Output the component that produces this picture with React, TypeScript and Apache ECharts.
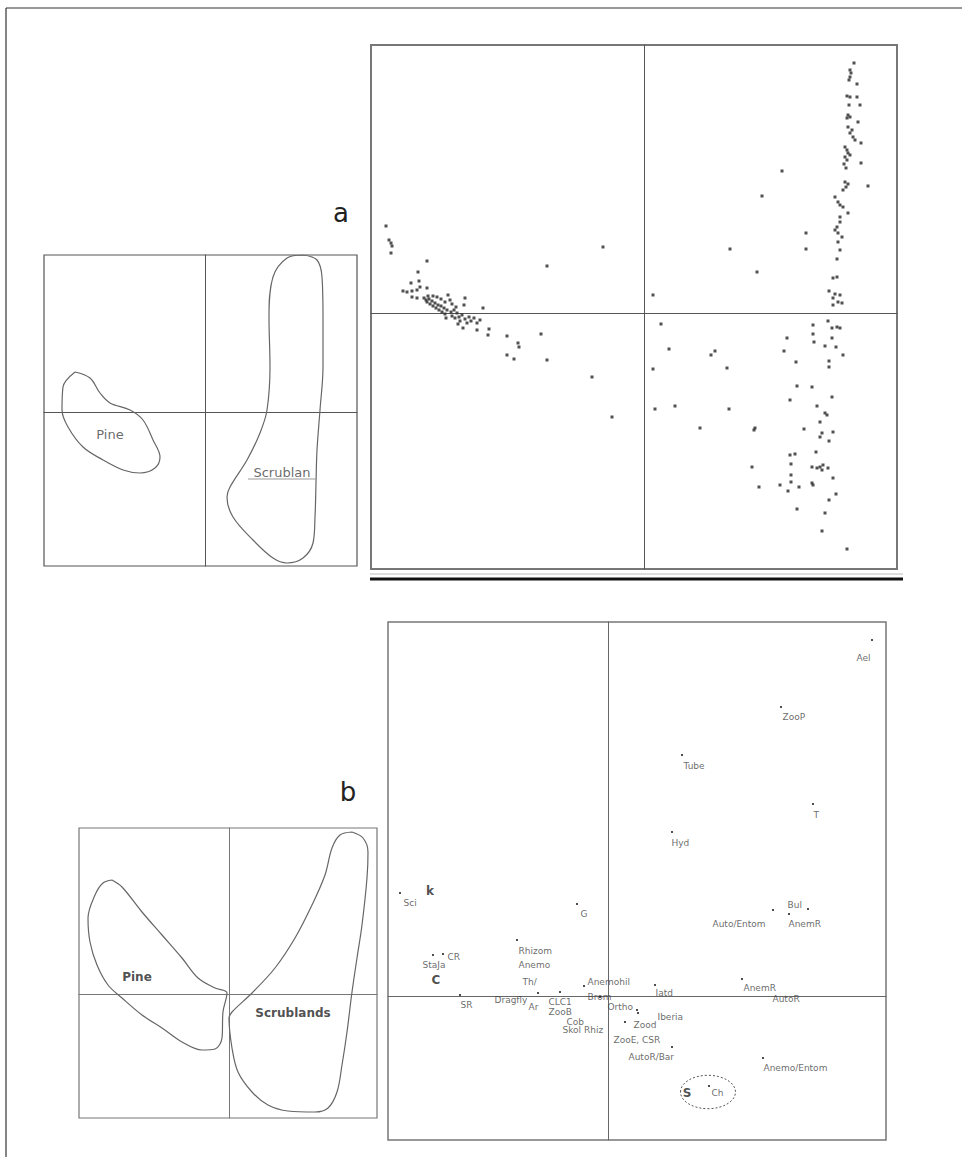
import React, { useEffect, useRef } from "react";
import * as echarts from "echarts";

// ---------- Panel a: outlines (left small plot) ----------
const pineOutlineA: number[][] = [
  [-1.30, 0.40], [-1.15, 0.34], [-1.05, 0.19], [-0.95, 0.09], [-0.75, 0.02], [-0.62, -0.08],
  [-0.52, -0.28], [-0.45, -0.45], [-0.50, -0.56], [-0.65, -0.61], [-0.82, -0.58], [-1.02, -0.48],
  [-1.22, -0.35], [-1.37, -0.15], [-1.43, 0.02], [-1.42, 0.25],
];
const scrubOutlineA: number[][] = [
  [0.98, 1.57], [1.12, 1.52], [1.17, 1.35], [1.18, 0.95], [1.18, 0.45], [1.15, 0.02],
  [1.12, -0.38], [1.11, -0.71], [1.10, -1.05], [1.08, -1.31], [0.98, -1.46], [0.82, -1.51],
  [0.68, -1.46], [0.48, -1.28], [0.28, -1.05], [0.22, -0.85], [0.25, -0.75], [0.42, -0.48],
  [0.55, -0.21], [0.62, 0.02], [0.65, 0.45], [0.64, 0.95], [0.68, 1.35], [0.82, 1.54],
];
const groupLabelsA: [string, number, number][] = [
  ["Pine", -0.95, -0.22],
  ["Scrublan", 0.77, -0.60],
];
const underlineA: number[][] = [[0.43, -0.67], [1.12, -0.67]];

// ---------- Panel a: site scores (right big plot) ----------
const pineSitesA: number[][] = [
  [-2.58, 0.87], [-2.55, 0.73], [-2.53, 0.70], [-2.52, 0.67], [-2.53, 0.60], [-2.17, 0.52],
  [-2.26, 0.41], [-2.25, 0.32], [-2.33, 0.30], [-2.24, 0.26], [-2.17, 0.25], [-2.41, 0.22],
  [-2.37, 0.21], [-2.32, 0.22], [-2.27, 0.23], [-2.32, 0.16], [-2.27, 0.15],
  [-2.20, 0.15], [-2.18, 0.13], [-2.17, 0.11], [-2.15, 0.14], [-2.14, 0.09], [-2.12, 0.12],
  [-2.11, 0.07], [-2.09, 0.10], [-2.08, 0.05], [-2.06, 0.08], [-2.05, 0.03], [-2.03, 0.07],
  [-2.02, 0.01], [-2.00, 0.05], [-1.99, -0.01], [-1.97, 0.03], [-1.96, 0.18], [-1.94, 0.13],
  [-1.93, 0.01], [-1.92, -0.03], [-1.90, 0.03], [-1.89, -0.05], [-1.87, 0.00], [-1.85, -0.04],
  [-1.84, -0.08], [-1.82, -0.02], [-1.80, 0.08], [-1.79, 0.15], [-1.79, -0.06], [-1.77, -0.10],
  [-1.81, -0.15], [-1.75, -0.04], [-1.73, -0.08], [-1.70, -0.05], [-1.67, -0.10], [-1.64, -0.07],
  [-2.07, 0.16], [-2.03, 0.14], [-1.99, 0.11], [-1.92, 0.09], [-1.88, 0.06], [-2.16, 0.17],
  [-2.11, 0.17], [-1.98, -0.05], [-1.86, -0.11],
  [-1.61, 0.05], [-0.97, 0.47], [-0.41, 0.66], [-1.67, -0.17], [-1.55, -0.16], [-1.56, -0.22],
  [-1.37, -0.23], [-1.26, -0.30], [-1.25, -0.34], [-1.03, -0.21], [-1.37, -0.42], [-1.30, -0.46],
  [-0.97, -0.47], [-0.52, -0.64], [-0.32, -1.04],
];
const scrubSitesA: number[][] = [
  [2.10, 2.50], [2.06, 2.43], [2.07, 2.40], [2.06, 2.36], [2.05, 2.33], [2.13, 2.29],
  [2.03, 2.17], [2.06, 2.16], [2.13, 2.16], [2.05, 2.08], [2.16, 2.08], [2.04, 1.98],
  [2.03, 1.95], [2.06, 1.96], [2.14, 1.91], [2.04, 1.86], [2.08, 1.83], [2.06, 1.80],
  [2.09, 1.76], [2.11, 1.73], [2.17, 1.70], [2.01, 1.66], [2.03, 1.63], [2.04, 1.60],
  [2.06, 1.58], [2.01, 1.56], [2.03, 1.53], [2.17, 1.50], [2.00, 1.49], [2.02, 1.45],
  [1.38, 1.42], [2.24, 1.27], [2.01, 1.31], [2.04, 1.29], [2.02, 1.26], [1.99, 1.23],
  [1.18, 1.17], [1.91, 1.16], [1.94, 1.11], [1.96, 1.08], [1.99, 1.06], [2.04, 1.00],
  [1.96, 0.96], [1.96, 0.91], [1.93, 0.86], [1.91, 0.83], [1.94, 0.80], [1.98, 0.76],
  [1.62, 0.80], [0.86, 0.64], [1.62, 0.64], [1.94, 0.71], [1.96, 0.63], [1.93, 0.54],
  [1.13, 0.41], [1.89, 0.35], [1.93, 0.36], [0.09, 0.18], [1.85, 0.22], [1.91, 0.19],
  [1.96, 0.18], [1.89, 0.15], [1.94, 0.11], [1.98, 0.10], [1.89, 0.08],
  [1.84, -0.08], [1.88, -0.15], [1.93, -0.14], [1.96, -0.15], [0.17, -0.11], [1.69, -0.12],
  [1.69, -0.21], [1.70, -0.29], [1.43, -0.25], [1.88, -0.25], [1.81, -0.33], [1.92, -0.34],
  [0.25, -0.36], [0.71, -0.38], [0.67, -0.42], [1.40, -0.38], [1.99, -0.42], [1.52, -0.49],
  [1.85, -0.48], [1.85, -0.54], [0.09, -0.56], [0.83, -0.55], [1.53, -0.73], [1.68, -0.74],
  [1.88, -0.84], [1.46, -0.87], [0.11, -0.96], [0.31, -0.93], [0.85, -0.96], [1.73, -0.93],
  [1.81, -1.00], [1.83, -1.02], [1.76, -1.09], [0.56, -1.15], [1.11, -1.15], [1.10, -1.17],
  [1.60, -1.16], [1.78, -1.20], [1.76, -1.24], [1.89, -1.19], [1.85, -1.28], [1.72, -1.39],
  [1.46, -1.42], [1.51, -1.41], [1.47, -1.51], [1.08, -1.54], [1.68, -1.54], [1.73, -1.55],
  [1.76, -1.54], [1.78, -1.57], [1.79, -1.52], [1.84, -1.55], [1.89, -1.65], [1.47, -1.62],
  [1.47, -1.69], [1.15, -1.74], [1.36, -1.72], [1.44, -1.78], [1.55, -1.74], [1.68, -1.70],
  [1.69, -1.72], [1.92, -1.81], [1.85, -1.87], [1.53, -1.96], [1.81, -2.00], [1.78, -2.18],
  [2.03, -2.36],
];

// ---------- Panel b: outlines (left small plot) ----------
const pineOutlineB: number[][] = [
  [-1.17, 1.14], [-1.07, 1.07], [-0.87, 0.82], [-0.67, 0.59], [-0.47, 0.36], [-0.31, 0.16],
  [-0.14, 0.06], [-0.02, 0.01], [-0.06, -0.18], [-0.07, -0.44], [-0.14, -0.55], [-0.27, -0.56],
  [-0.47, -0.48], [-0.67, -0.34], [-0.87, -0.21], [-1.07, -0.04], [-1.21, 0.09], [-1.32, 0.29],
  [-1.39, 0.52], [-1.41, 0.76], [-1.34, 0.99], [-1.26, 1.11],
];
const scrubOutlineB: number[][] = [
  [1.23, 1.62], [1.34, 1.56], [1.39, 1.42], [1.38, 1.16], [1.33, 0.69], [1.28, 0.36],
  [1.23, 0.02], [1.18, -0.38], [1.13, -0.71], [1.08, -0.98], [0.99, -1.14], [0.86, -1.18],
  [0.59, -1.17], [0.39, -1.11], [0.23, -0.98], [0.09, -0.78], [0.03, -0.54], [0.00, -0.24],
  [0.03, -0.18], [0.23, 0.01], [0.46, 0.26], [0.66, 0.56], [0.83, 0.89], [0.96, 1.19],
  [1.03, 1.46], [1.11, 1.59],
];
const groupLabelsB: [string, number, number][] = [
  ["Pine", -0.92, 0.17],
  ["Scrublands", 0.64, -0.19],
];

// ---------- Panel b: trait scores (right big plot) ----------
const traitLabelsB: [string, number, number][] = [
  ["Ael", 2.48, 3.38], ["ZooP", 1.74, 2.79], ["Tube", 0.75, 2.30], ["T", 2.05, 1.81],
  ["Hyd", 0.63, 1.53], ["Bul", 1.79, 0.91], ["Auto/Entom", 1.04, 0.72], ["AnemR", 1.80, 0.72],
  ["Sci", -2.05, 0.93], ["G", -0.28, 0.82], ["Rhizom", -0.90, 0.45], ["Anemo", -0.90, 0.31],
  ["Th/", -0.86, 0.14], ["CR", -1.61, 0.39], ["StaJa", -1.86, 0.31], ["SR", -1.48, -0.09],
  ["Dragfly", -1.14, -0.04], ["Ar", -0.80, -0.11], ["CLC1", -0.60, -0.06], ["ZooB", -0.60, -0.16],
  ["Cob", -0.42, -0.26], ["Skol Rhiz", -0.46, -0.34], ["Anemohil", -0.21, 0.14], ["Brom", -0.21, -0.01],
  ["Ortho", -0.01, -0.11], ["Iatd", 0.47, 0.03], ["Iberia", 0.49, -0.21], ["Zood", 0.25, -0.29],
  ["ZooE, CSR", 0.05, -0.44], ["AutoR/Bar", 0.20, -0.61], ["AnemR", 1.35, 0.08], ["AutoR", 1.64, -0.03],
  ["Anemo/Entom", 1.55, -0.72], ["Ch", 1.03, -0.97],
];
const boldLabelsB: [string, number, number][] = [
  ["k", -1.78, 1.05], ["C", -1.72, 0.16], ["S", 0.79, -0.97],
];
const traitPointsB: number[][] = [
  [2.64, 3.56], [1.73, 2.89], [0.74, 2.41], [2.05, 1.92], [0.64, 1.64], [2.00, 0.87],
  [1.65, 0.86], [1.81, 0.82], [-2.08, 1.03], [-0.31, 0.92], [-0.91, 0.56], [-1.65, 0.42],
  [-1.75, 0.41], [-1.48, 0.01], [-0.48, 0.04], [-0.24, 0.10], [0.47, 0.11], [0.29, -0.14],
  [0.30, -0.17], [0.17, -0.26], [0.64, -0.51], [1.34, 0.17], [1.55, -0.62], [1.01, -0.90],
  [-0.70, 0.03], [-0.08, -0.01],
];
// dashed ellipse around S / Ch: centre and radii in axis units
const ellipseB = { cx: 1.0, cy: -0.96, rx: 0.275, ry: 0.167 };

const FONT = "DejaVu Sans";

function closed(pts: number[][]) {
  return [...pts, pts[0]];
}

function hiddenAxis(gridIndex: number, min: number, max: number, color: string) {
  return {
    type: "value",
    gridIndex,
    min,
    max,
    axisLine: { show: true, onZero: true, lineStyle: { color, width: 1 } },
    axisTick: { show: false },
    axisLabel: { show: false },
    splitLine: { show: false },
  };
}

export default function App() {
  const ref = useRef<HTMLDivElement>(null);
  useEffect(() => {
    if (!ref.current) return;
    const chart = echarts.init(ref.current, null, { renderer: "svg" });
    const lineColor = "#555";
    const outline = (xi: number, data: number[][]) => ({
      type: "line",
      xAxisIndex: xi,
      yAxisIndex: xi,
      data: closed(data),
      smooth: 0.35,
      symbol: "none",
      lineStyle: { color: "#666", width: 1.2 },
      silent: true,
    });
    const textSeries = (xi: number, items: [string, number, number][], label: any, pos: any) => ({
      type: "scatter",
      xAxisIndex: xi,
      yAxisIndex: xi,
      symbolSize: 1,
      itemStyle: { color: "rgba(0,0,0,0)" },
      data: items.map((d) => ({ name: d[0], value: [d[1], d[2]] })),
      label: {
        show: true,
        formatter: "{b}",
        position: pos,
        distance: 0,
        fontFamily: FONT,
        ...label,
      },
      silent: true,
    });

    chart.setOption({
      animation: false,
      grid: [
        { left: 44, top: 255, width: 313, height: 311, show: true, borderColor: "#555", borderWidth: 1.2 },
        { left: 371, top: 45, width: 526, height: 524, show: true, borderColor: "#777", borderWidth: 2 },
        { left: 79, top: 828, width: 298, height: 290, show: true, borderColor: "#777", borderWidth: 1.2 },
        { left: 388, top: 622, width: 498, height: 518, show: true, borderColor: "#777", borderWidth: 1.5 },
      ],
      xAxis: [
        hiddenAxis(0, -1.61, 1.52, lineColor),
        hiddenAxis(1, -2.73, 2.53, lineColor),
        hiddenAxis(2, -1.5, 1.48, "#777"),
        hiddenAxis(3, -2.2, 2.78, "#666"),
      ],
      yAxis: [
        hiddenAxis(0, -1.54, 1.57, lineColor),
        hiddenAxis(1, -2.56, 2.68, lineColor),
        hiddenAxis(2, -1.24, 1.66, "#777"),
        hiddenAxis(3, -1.44, 3.74, "#666"),
      ],
      series: [
        outline(0, pineOutlineA),
        outline(0, scrubOutlineA),
        {
          type: "line",
          xAxisIndex: 0,
          yAxisIndex: 0,
          data: underlineA,
          symbol: "none",
          lineStyle: { color: "#999", width: 1 },
          silent: true,
        },
        textSeries(0, groupLabelsA, { fontSize: 13, color: "#444" }, "inside"),
        {
          type: "scatter",
          xAxisIndex: 1,
          yAxisIndex: 1,
          symbol: "rect",
          symbolSize: 3,
          itemStyle: { color: "#333", opacity: 0.85 },
          data: pineSitesA,
          silent: true,
        },
        {
          type: "scatter",
          xAxisIndex: 1,
          yAxisIndex: 1,
          symbol: "rect",
          symbolSize: 3,
          itemStyle: { color: "#333", opacity: 0.85 },
          data: scrubSitesA,
          silent: true,
        },
        outline(2, pineOutlineB),
        outline(2, scrubOutlineB),
        textSeries(2, groupLabelsB, { fontSize: 12, color: "#222", fontWeight: "bold" }, "inside"),
        {
          type: "scatter",
          xAxisIndex: 3,
          yAxisIndex: 3,
          symbol: "rect",
          symbolSize: 2,
          itemStyle: { color: "#222" },
          data: traitPointsB,
          silent: true,
        },
        textSeries(3, traitLabelsB, { fontSize: 9, color: "#444" }, "right"),
        textSeries(3, boldLabelsB, { fontSize: 12, color: "#222", fontWeight: "bold" }, "inside"),
      ],
    });

    const c = chart.convertToPixel({ gridIndex: 3 }, [ellipseB.cx, ellipseB.cy]) as number[];
    const e = chart.convertToPixel({ gridIndex: 3 }, [ellipseB.cx + ellipseB.rx, ellipseB.cy + ellipseB.ry]) as number[];

    chart.setOption({
      graphic: [
        { type: "line", shape: { x1: 6, y1: 8, x2: 962, y2: 8 }, style: { stroke: "#333", lineWidth: 1.2 }, silent: true },
        { type: "line", shape: { x1: 6, y1: 8, x2: 6, y2: 1157 }, style: { stroke: "#333", lineWidth: 1.2 }, silent: true },
        { type: "line", shape: { x1: 370, y1: 574, x2: 903, y2: 574 }, style: { stroke: "#bbb", lineWidth: 1 }, silent: true },
        { type: "line", shape: { x1: 370, y1: 579, x2: 903, y2: 579 }, style: { stroke: "#111", lineWidth: 3 }, silent: true },
        {
          type: "text", x: 341, y: 213,
          style: { text: "a", font: `26px "${FONT}"`, fill: "#222", textAlign: "center", textVerticalAlign: "middle" },
          silent: true,
        },
        {
          type: "text", x: 348, y: 792,
          style: { text: "b", font: `26px "${FONT}"`, fill: "#222", textAlign: "center", textVerticalAlign: "middle" },
          silent: true,
        },
        {
          type: "ellipse",
          shape: { cx: c[0], cy: c[1], rx: Math.abs(e[0] - c[0]), ry: Math.abs(c[1] - e[1]) },
          style: { fill: "none", stroke: "#555", lineWidth: 1, lineDash: [2, 2] },
          silent: true,
        },
      ],
    });

    return () => chart.dispose();
  }, []);
  return (
    <div
      ref={ref}
      style={{ position: "absolute", left: 0, top: 0, width: 962, height: 1157, background: "#fff" }}
    />
  );
}
